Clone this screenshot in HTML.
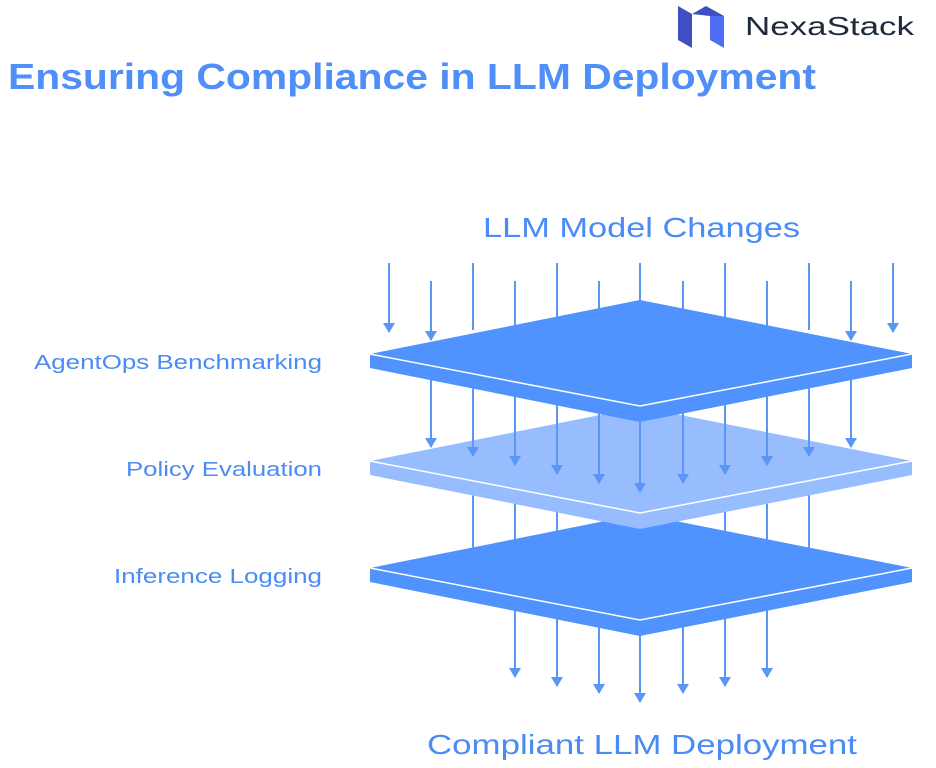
<!DOCTYPE html>
<html><head><meta charset="utf-8"><style>
html,body{margin:0;padding:0;background:#fff;width:936px;height:768px;overflow:hidden}
</style></head><body>
<svg width="936" height="768" viewBox="0 0 936 768" xmlns="http://www.w3.org/2000/svg" font-family="Liberation Sans, sans-serif">
<defs>
<marker id="ah" markerWidth="10" markerHeight="12" refX="9" refY="6" orient="auto" markerUnits="userSpaceOnUse" viewBox="0 0 10 12">
<path d="M0,0 L10,6 L0,12 Z" fill="#5A96F5"/></marker>
</defs>
<!-- logo -->
<polygon points="678,6 692,14 692,48 678,40" fill="#3F4FC2"/>
<polygon points="692,14 706,6 724,16 710,16" fill="#3F4FC2"/>
<polygon points="710,16 724,16 724,48 710,40" fill="#4F6EF5"/>
<text x="745" y="35" font-size="26" fill="#1E2A3E" textLength="169" lengthAdjust="spacingAndGlyphs">NexaStack</text>
<text x="8" y="89" font-size="36" font-weight="bold" fill="#4F8FF7" textLength="808" lengthAdjust="spacingAndGlyphs">Ensuring Compliance in LLM Deployment</text>
<text x="483" y="237" font-size="28" fill="#4A8BF5" textLength="317" lengthAdjust="spacingAndGlyphs">LLM Model Changes</text>
<text x="427" y="754" font-size="28" fill="#4A8BF5" textLength="430" lengthAdjust="spacingAndGlyphs">Compliant LLM Deployment</text>
<g font-size="20" fill="#4A8BF5">
<text x="34" y="369" textLength="288" lengthAdjust="spacingAndGlyphs">AgentOps Benchmarking</text>
<text x="126" y="476" textLength="196" lengthAdjust="spacingAndGlyphs">Policy Evaluation</text>
<text x="114" y="583" textLength="208" lengthAdjust="spacingAndGlyphs">Inference Logging</text>
</g>
<g stroke="#5A96F5" stroke-width="2" fill="none">
<line x1="389" y1="263" x2="389" y2="332" marker-end="url(#ah)"/>
<line x1="431" y1="281" x2="431" y2="340" marker-end="url(#ah)"/>
<line x1="473" y1="263" x2="473" y2="330"/>
<line x1="515" y1="281" x2="515" y2="330"/>
<line x1="557" y1="263" x2="557" y2="330"/>
<line x1="599" y1="281" x2="599" y2="330"/>
<line x1="640" y1="263" x2="640" y2="330"/>
<line x1="683" y1="281" x2="683" y2="330"/>
<line x1="725" y1="263" x2="725" y2="330"/>
<line x1="767" y1="281" x2="767" y2="330"/>
<line x1="809" y1="263" x2="809" y2="330"/>
<line x1="851" y1="281" x2="851" y2="340" marker-end="url(#ah)"/>
<line x1="893" y1="263" x2="893" y2="332" marker-end="url(#ah)"/>
<line x1="473" y1="490" x2="473" y2="570"/>
<line x1="515" y1="490" x2="515" y2="570"/>
<line x1="557" y1="490" x2="557" y2="570"/>
<line x1="725" y1="490" x2="725" y2="570"/>
<line x1="767" y1="490" x2="767" y2="570"/>
<line x1="809" y1="490" x2="809" y2="570"/>
<line x1="515" y1="600" x2="515" y2="677" marker-end="url(#ah)"/>
<line x1="557" y1="600" x2="557" y2="686" marker-end="url(#ah)"/>
<line x1="599" y1="600" x2="599" y2="693" marker-end="url(#ah)"/>
<line x1="640" y1="600" x2="640" y2="702" marker-end="url(#ah)"/>
<line x1="683" y1="600" x2="683" y2="693" marker-end="url(#ah)"/>
<line x1="725" y1="600" x2="725" y2="686" marker-end="url(#ah)"/>
<line x1="767" y1="600" x2="767" y2="677" marker-end="url(#ah)"/>
</g>
<polygon points="370,568 640,514 912,568 912,582 640,636 370,582" fill="#5093FF"/>
<polyline points="370,568 640,620 912,568" stroke="#fff" stroke-width="1.5" fill="none"/>
<polygon points="370,461 640,407 912,461 912,475 640,529 370,475" fill="#97BDFF"/>
<polyline points="370,461 640,513 912,461" stroke="#fff" stroke-width="1.5" fill="none"/>
<g stroke="#5A96F5" stroke-width="2" fill="none">
<line x1="431" y1="380" x2="431" y2="447" marker-end="url(#ah)"/>
<line x1="473" y1="380" x2="473" y2="456" marker-end="url(#ah)"/>
<line x1="515" y1="380" x2="515" y2="465" marker-end="url(#ah)"/>
<line x1="557" y1="380" x2="557" y2="474" marker-end="url(#ah)"/>
<line x1="599" y1="380" x2="599" y2="483" marker-end="url(#ah)"/>
<line x1="640" y1="380" x2="640" y2="492" marker-end="url(#ah)"/>
<line x1="683" y1="380" x2="683" y2="483" marker-end="url(#ah)"/>
<line x1="725" y1="380" x2="725" y2="474" marker-end="url(#ah)"/>
<line x1="767" y1="380" x2="767" y2="465" marker-end="url(#ah)"/>
<line x1="809" y1="380" x2="809" y2="456" marker-end="url(#ah)"/>
<line x1="851" y1="380" x2="851" y2="447" marker-end="url(#ah)"/>
</g>
<polygon points="370,354 640,300 912,354 912,368 640,422 370,368" fill="#5093FF"/>
<polyline points="370,354 640,406 912,354" stroke="#fff" stroke-width="1.5" fill="none"/>
</svg>
</body></html>
